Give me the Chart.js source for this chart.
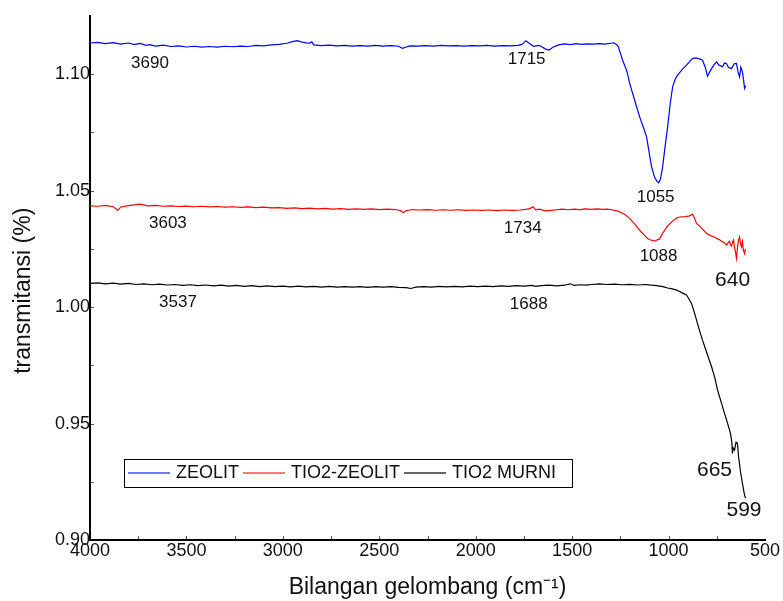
<!DOCTYPE html>
<html>
<head>
<meta charset="utf-8">
<script src="https://cdn.jsdelivr.net/npm/chart.js@4"></script>
<style>
html, body { margin: 0; padding: 0; background: #fff; }
#wrap { width: 783px; height: 601px; position: relative; }
</style>
</head>
<body>
<div id="wrap"><canvas id="ftir"></canvas></div>
<script>
// FTIR spektrum - ZEOLIT, TIO2-ZEOLIT, TIO2 MURNI

var zeolitWn = [4000,3960,3920,3880,3840,3800,3770,3740,3710,3690,3660,3620,3580,3540,3500,3460,3420,3380,3340,3300,
  3260,3220,3180,3140,3100,3060,3020,2980,2950,2925,2900,2880,2860,2850,2840,2800,2760,2720,2680,2640,
  2600,2560,2520,2480,2440,2400,2380,2360,2340,2300,2260,2220,2180,2140,2100,2060,2020,1980,1940,1900,
  1860,1820,1780,1760,1740,1725,1700,1670,1640,1620,1600,1570,1540,1510,1480,1450,1420,1390,1360,1330,
  1300,1285,1270,1260,1238,1215,1202,1180,1150,1130,1114,1100,1088,1073,1060,1052,1042,1031,1018,1005,
  992,979,965,953,930,907,890,876,860,839,824,810,798,788,777,765,751,740,720,710,
  700,690,674,660,648,640,632,625,617,611,606,600];
var zeolitT = [1.1134,1.1137,1.1131,1.1136,1.1129,1.1134,1.1127,1.1132,1.1124,1.1127,1.1121,1.1125,1.1119,1.1122,1.1117,1.1120,1.1116,1.1119,1.1116,1.1120,
  1.1118,1.1121,1.1119,1.1124,1.1122,1.1126,1.1128,1.1133,1.1140,1.1144,1.1138,1.1135,1.1134,1.1139,1.1126,1.1123,1.1125,1.1122,1.1124,1.1121,
  1.1123,1.1121,1.1124,1.1121,1.1123,1.1120,1.1111,1.1117,1.1122,1.1121,1.1123,1.1121,1.1124,1.1122,1.1123,1.1121,1.1123,1.1122,1.1124,1.1121,
  1.1123,1.1122,1.1124,1.1128,1.1144,1.1134,1.1120,1.1124,1.1109,1.1104,1.1116,1.1126,1.1130,1.1127,1.1131,1.1128,1.1130,1.1129,1.1131,1.1129,
  1.1133,1.1135,1.1128,1.1117,1.1060,1.1010,1.0962,1.0900,1.0817,1.0770,1.0731,1.0660,1.0602,1.0559,1.0540,1.0534,1.0550,1.0601,1.0690,1.0773,
  1.0870,1.0946,1.0980,1.0996,1.1020,1.1039,1.1055,1.1067,1.1070,1.1066,1.1060,1.1030,1.0991,1.1008,1.1024,1.1040,1.1053,1.1040,1.1032,1.1048,
  1.1046,1.1030,1.1024,1.1045,1.1046,1.1010,1.0988,1.1030,1.1010,1.0975,1.0939,1.0950];

var tioZeolitWn = [4000,3960,3920,3880,3855,3840,3800,3760,3740,3700,3660,3620,3580,3540,3500,3460,3420,3380,3340,3300,
  3260,3220,3180,3140,3100,3060,3020,2980,2940,2900,2860,2820,2780,2740,2700,2660,2620,2580,2540,2500,
  2460,2420,2390,2376,2360,2330,2290,2250,2210,2170,2130,2090,2050,2010,1970,1930,1890,1850,1810,1770,
  1740,1720,1702,1690,1670,1640,1610,1580,1550,1520,1490,1460,1430,1400,1370,1340,1316,1290,1264,1245,
  1228,1202,1175,1150,1130,1109,1095,1083,1067,1057,1047,1031,1010,984,965,953,935,922,905,891,
  876,865,855,840,829,815,803,790,777,765,751,738,725,712,699,690,684,679,674,668,
  663,658,653,648,642,637,632,627,622,617,612,606,601];
var tioZeolitT = [1.0435,1.0433,1.0437,1.0431,1.0416,1.0430,1.0436,1.0440,1.0442,1.0435,1.0437,1.0433,1.0435,1.0432,1.0434,1.0431,1.0433,1.0430,1.0432,1.0429,
  1.0431,1.0428,1.0430,1.0427,1.0429,1.0426,1.0427,1.0424,1.0426,1.0423,1.0425,1.0422,1.0424,1.0421,1.0423,1.0420,1.0422,1.0420,1.0422,1.0419,
  1.0421,1.0419,1.0415,1.0406,1.0414,1.0419,1.0417,1.0419,1.0416,1.0418,1.0416,1.0418,1.0415,1.0417,1.0415,1.0417,1.0414,1.0417,1.0415,1.0417,
  1.0420,1.0423,1.0431,1.0418,1.0421,1.0413,1.0415,1.0418,1.0421,1.0418,1.0421,1.0419,1.0422,1.0420,1.0422,1.0420,1.0421,1.0417,1.0412,1.0405,
  1.0399,1.0381,1.0356,1.0330,1.0312,1.0295,1.0289,1.0285,1.0284,1.0290,1.0292,1.0316,1.0343,1.0366,1.0378,1.0385,1.0388,1.0387,1.0390,1.0392,
  1.0399,1.0382,1.0359,1.0349,1.0339,1.0327,1.0316,1.0310,1.0305,1.0302,1.0295,1.0290,1.0283,1.0276,1.0266,1.0278,1.0283,1.0268,1.0262,1.0280,
  1.0288,1.0255,1.0236,1.0210,1.0260,1.0288,1.0302,1.0275,1.0259,1.0281,1.0245,1.0230,1.0249];

var tioMurniWn = [4000,3960,3920,3880,3840,3800,3760,3720,3680,3640,3600,3560,3520,3480,3440,3400,3360,3320,3280,3240,
  3200,3160,3120,3080,3040,3000,2960,2920,2880,2840,2800,2760,2720,2680,2640,2600,2560,2520,2480,2440,
  2400,2360,2337,2310,2270,2230,2190,2150,2110,2070,2030,1990,1950,1910,1870,1830,1790,1750,1710,1688,
  1660,1620,1580,1540,1510,1490,1460,1430,1400,1358,1320,1280,1240,1200,1160,1120,1090,1062,1030,1005,
  980,958,940,927,907,895,881,868,855,840,824,800,777,760,746,728,710,694,679,672,
  669,665,658,650,643,637,627,617,611,606,601];
var tioMurniT = [1.0102,1.0104,1.0100,1.0103,1.0099,1.0102,1.0097,1.0100,1.0096,1.0099,1.0095,1.0097,1.0093,1.0096,1.0092,1.0095,1.0091,1.0094,1.0090,1.0093,
  1.0089,1.0092,1.0088,1.0091,1.0088,1.0090,1.0087,1.0090,1.0087,1.0089,1.0086,1.0089,1.0086,1.0088,1.0086,1.0088,1.0085,1.0088,1.0086,1.0088,
  1.0085,1.0084,1.0080,1.0086,1.0088,1.0086,1.0089,1.0087,1.0089,1.0087,1.0090,1.0088,1.0090,1.0088,1.0091,1.0089,1.0092,1.0090,1.0093,1.0089,
  1.0092,1.0094,1.0091,1.0094,1.0100,1.0093,1.0096,1.0094,1.0097,1.0100,1.0097,1.0099,1.0096,1.0098,1.0095,1.0097,1.0094,1.0092,1.0088,1.0082,
  1.0078,1.0073,1.0066,1.0060,1.0052,1.0036,1.0016,0.9982,0.9944,0.9900,0.9858,0.9800,0.9744,0.9696,0.9644,0.9594,0.9544,0.9501,0.9458,0.9420,
  0.9372,0.9395,0.9386,0.9420,0.9415,0.9358,0.9293,0.9243,0.9215,0.9193,0.9180];

// label puncak: teks, bilangan gelombang & transmitansi tempat teks
var peakText = ["3690","1715","1055","3603","1734","1088","640","3537","1688","665","599"];
var peakWn   = [3689, 1736, 1067, 3596, 1756, 1052, 668, 3544, 1725, 762, 609];
var peakT    = [1.1045, 1.1062, 1.0472, 1.0358, 1.0339, 1.0217, 1.0116, 1.0021, 1.0013, 0.9300, 0.9129];
var peakBig  = [false, false, false, false, false, false, true, false, false, true, true];

var seriesNames = ["ZEOLIT", "TIO2-ZEOLIT", "TIO2 MURNI"];
var seriesColors = ["#0000ff", "#ff0000", "#000000"];
var legendColors = ["#4a4aff", "#ff4a4a", "#333333"];
var FONT = "'Liberation Sans', Arial, sans-serif";

function toPoints(xs, ys) {
  return xs.map(function (x, i) { return { x: x, y: ys[i] }; });
}

var peakLabels = {
  id: "peakLabels",
  afterDatasetsDraw: function (chart) {
    var ctx = chart.ctx, xs = chart.scales.x, ys = chart.scales.y;
    ctx.save();
    ctx.fillStyle = "#111";
    ctx.textAlign = "center";
    ctx.textBaseline = "middle";
    for (var i = 0; i < peakText.length; i++) {
      ctx.font = (peakBig[i] ? "21px " : "17px ") + FONT;
      ctx.fillText(peakText[i], xs.getPixelForValue(peakWn[i]), ys.getPixelForValue(peakT[i]));
    }
    ctx.restore();
  }
};

var innerTicks = {
  id: "innerTicks",
  afterDatasetsDraw: function (chart) {
    var ctx = chart.ctx, xs = chart.scales.x, ys = chart.scales.y, a = chart.chartArea;
    ctx.save();
    ctx.strokeStyle = "#555";
    ctx.lineWidth = 1;
    ctx.beginPath();
    for (var w = 750; w < 4000; w += 250) {
      var px = Math.round(xs.getPixelForValue(w)) + 0.5;
      ctx.moveTo(px, a.bottom - 1); ctx.lineTo(px, a.bottom - 4);
    }
    for (var k = 1; k <= 8; k++) {
      var py = Math.round(ys.getPixelForValue(0.90 + k * 0.025)) + 0.5;
      ctx.moveTo(a.left + 1, py); ctx.lineTo(a.left + 4, py);
    }
    ctx.stroke();
    ctx.restore();
  }
};

var boxLegend = {
  id: "boxLegend",
  afterDraw: function (chart) {
    var ctx = chart.ctx;
    var left = 124, top = 459, right = 572, bottom = 487, cy = 473;
    ctx.save();
    ctx.fillStyle = "#fff";
    ctx.fillRect(left, top, right - left, bottom - top);
    ctx.strokeStyle = "#000";
    ctx.lineWidth = 1;
    ctx.strokeRect(left + 0.5, top + 0.5, right - left, bottom - top);
    ctx.font = "18px " + FONT;
    ctx.textBaseline = "middle";
    ctx.textAlign = "left";
    var x = left + 4;
    for (var i = 0; i < seriesNames.length; i++) {
      ctx.strokeStyle = legendColors[i];
      ctx.lineWidth = 1.5;
      ctx.beginPath();
      ctx.moveTo(x, cy);
      ctx.lineTo(x + 42, cy);
      ctx.stroke();
      x += 48;
      ctx.fillStyle = "#111";
      ctx.fillText(seriesNames[i], x, cy);
      x += ctx.measureText(seriesNames[i]).width + 4;
    }
    ctx.restore();
  }
};

var config = {
  type: "line",
  data: {
    datasets: [{
      label: seriesNames[0],
      data: toPoints(zeolitWn, zeolitT),
      borderColor: seriesColors[0],
      borderWidth: 1.2,
      pointRadius: 0,
      tension: 0
    }, {
      label: seriesNames[1],
      data: toPoints(tioZeolitWn, tioZeolitT),
      borderColor: seriesColors[1],
      borderWidth: 1.2,
      pointRadius: 0,
      tension: 0
    }, {
      label: seriesNames[2],
      data: toPoints(tioMurniWn, tioMurniT),
      borderColor: seriesColors[2],
      borderWidth: 1.2,
      pointRadius: 0,
      tension: 0
    }]
  },
  options: {
    responsive: true,
    maintainAspectRatio: false,
    animation: false,
    layout: { padding: { top: 16, right: 18, left: 0, bottom: 0 } },
    plugins: {
      legend: { display: false },
      tooltip: { enabled: false }
    },
    scales: {
      x: {
        type: "linear",
        reverse: true,
        min: 500,
        max: 4000,
        grid: { display: false, drawTicks: false },
        border: { display: true, color: "#000", width: 2 },
        ticks: {
          stepSize: 500,
          padding: 0,
          maxRotation: 0,
          color: "#111",
          font: { family: FONT, size: 18 },
          callback: function (v) { return String(v); }
        },
        title: {
          display: true,
          text: "Bilangan gelombang (cm\u207B\u00B9)",
          color: "#111",
          font: { family: FONT, size: 23 },
          padding: { top: 0, bottom: 0 }
        },
        afterFit: function (s) { s.height = 61; }
      },
      y: {
        type: "linear",
        min: 0.90,
        max: 1.125,
        grid: { display: false, drawTicks: false },
        border: { display: true, color: "#000", width: 2 },
        ticks: {
          stepSize: 0.05,
          includeBounds: false,
          padding: 0,
          color: "#111",
          font: { family: FONT, size: 18 },
          callback: function (v) { return v > 1.12 ? "" : v.toFixed(2); }
        },
        title: {
          display: true,
          text: "transmitansi (%)    ",
          color: "#111",
          font: { family: FONT, size: 23 },
          padding: { top: 10, bottom: 0 }
        },
        afterFit: function (s) { s.width = 90; }
      }
    }
  },
  plugins: [innerTicks, peakLabels, boxLegend]
};

var ftirChart = new Chart(document.getElementById("ftir"), config);
</script>
</body>
</html>
